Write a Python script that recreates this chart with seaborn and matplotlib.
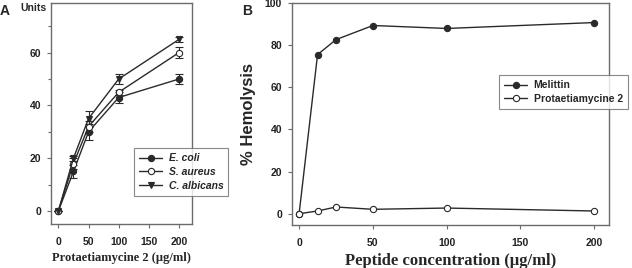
import matplotlib
matplotlib.use("Agg")
import matplotlib.pyplot as plt
from matplotlib.lines import Line2D
from matplotlib.ticker import MultipleLocator
import pandas as pd
import seaborn as sns

# Panel A: antimicrobial activity
conc_a = [0, 25, 50, 100, 200]
ecoli = [0, 15, 30, 43, 50]
ecoli_err = [0, 2.5, 3, 2, 2]
saureus = [0, 18, 32, 45, 60]
saureus_err = [0, 2, 2, 1, 2]
calbicans = [0, 20, 35, 50, 65]
calbicans_err = [0, 1, 3, 2, 1]

# Panel B: hemolysis
conc_b = [0, 12.5, 25, 50, 100, 200]
melittin = [0, 75.5, 82.6, 89.3, 87.9, 90.7]
protae = [0, 1.3, 3.2, 2.1, 2.7, 1.3]

sns.set_style("white")
plt.rcParams["font.family"] = ["Liberation Sans", "DejaVu Sans"]

line_col = "#2a2a2a"
frame_col = "#6b6b6b"

fig = plt.figure(figsize=(6.32, 2.68), dpi=100)
ax_a = fig.add_axes([0.0802, 0.164, 0.2231, 0.825])
ax_b = fig.add_axes([0.4616, 0.160, 0.502, 0.829])

series_a = [
    ("E. coli", ecoli, ecoli_err, "o", line_col),
    ("S. aureus", saureus, saureus_err, "o", "white"),
    ("C. albicans", calbicans, calbicans_err, "v", line_col),
]
handles_a = []
for label, vals, errs, mk, face in series_a:
    df = pd.DataFrame({"conc": conc_a, "val": vals})
    ax_a.errorbar(conc_a, vals, yerr=errs, fmt="none", ecolor=line_col,
                  elinewidth=0.8, capsize=3, capthick=0.8, zorder=2)
    sns.lineplot(data=df, x="conc", y="val", ax=ax_a, color=line_col,
                 linewidth=1.0, marker=mk, markersize=4.5,
                 markerfacecolor=face, markeredgecolor=line_col,
                 markeredgewidth=0.8, zorder=3)
    handles_a.append(Line2D([], [], color=line_col, lw=1.0, marker=mk,
                            markersize=4.5, markerfacecolor=face,
                            markeredgecolor=line_col, markeredgewidth=0.8,
                            label=label))

series_b = [
    ("Melittin", melittin, line_col),
    ("Protaetiamycine 2", protae, "white"),
]
handles_b = []
for label, vals, face in series_b:
    df = pd.DataFrame({"conc": conc_b, "val": vals})
    sns.lineplot(data=df, x="conc", y="val", ax=ax_b, color=line_col,
                 linewidth=1.0, marker="o", markersize=4.5,
                 markerfacecolor=face, markeredgecolor=line_col,
                 markeredgewidth=0.8)
    handles_b.append(Line2D([], [], color=line_col, lw=1.0, marker="o",
                            markersize=4.5, markerfacecolor=face,
                            markeredgecolor=line_col, markeredgewidth=0.8,
                            label=label))

# axes A
ax_a.set_xlim(-12.7, 221)
ax_a.set_ylim(-4.9, 78.8)
ax_a.set_xticks([0, 50, 100, 150, 200])
ax_a.set_yticks([0, 20, 40, 60])
ax_a.yaxis.set_minor_locator(MultipleLocator(10))
ax_a.set_xlabel("Protaetiamycine 2 (\u03bcg/ml)", family="Liberation Serif",
                fontweight="bold", fontsize=9, labelpad=4)
ax_a.set_ylabel("")
ax_a.text(-0.12, 1.0, "Units", transform=ax_a.transAxes, fontsize=7.5,
          fontweight="bold", ha="center", va="top")
fig.text(0.0, 0.985, "A", fontsize=10, fontweight="bold", va="top")

# axes B
ax_b.set_xlim(-5, 210)
ax_b.set_ylim(-5.4, 100)
ax_b.set_xticks([0, 50, 100, 150, 200])
ax_b.set_yticks([0, 20, 40, 60, 80, 100])
ax_b.set_xlabel("Peptide concentration (\u03bcg/ml)", family="Liberation Serif",
                fontweight="bold", fontsize=12, labelpad=4)
ax_b.set_ylabel("% Hemolysis", fontsize=12, fontweight="bold", labelpad=6)
fig.text(0.383, 0.985, "B", fontsize=10, fontweight="bold", va="top")

for ax in (ax_a, ax_b):
    for sp in ax.spines.values():
        sp.set_color(frame_col)
        sp.set_linewidth(1.0)
    ax.tick_params(axis="both", which="both", direction="out", color=frame_col,
                   left=True, bottom=True, width=0.8)
    ax.tick_params(which="major", length=3, labelsize=7.5, pad=4)
    ax.tick_params(axis="x", which="major", pad=6)
    ax.tick_params(which="minor", length=2)
    for lab in ax.get_xticklabels() + ax.get_yticklabels():
        lab.set_fontweight("bold")
        lab.set_color("#222222")

leg_a = ax_a.legend(handles=handles_a, loc="upper left",
                    bbox_to_anchor=(0.555, 0.367), frameon=True, fancybox=False,
                    edgecolor=frame_col, handlelength=2.2, handletextpad=0.6,
                    borderpad=0.5, labelspacing=0.35, fontsize=7.5)
for t in leg_a.get_texts():
    t.set_fontstyle("italic")
    t.set_fontweight("bold")
leg_a.get_frame().set_linewidth(0.8)

leg_b = ax_b.legend(handles=handles_b, loc="upper left",
                    bbox_to_anchor=(0.6376, 0.698), frameon=True, fancybox=False,
                    edgecolor=frame_col, handlelength=2.2, handletextpad=0.6,
                    borderpad=0.5, labelspacing=0.35, fontsize=7.5)
for t in leg_b.get_texts():
    t.set_fontweight("bold")
leg_b.get_frame().set_linewidth(0.8)

fig.savefig("out.png", dpi=100)
